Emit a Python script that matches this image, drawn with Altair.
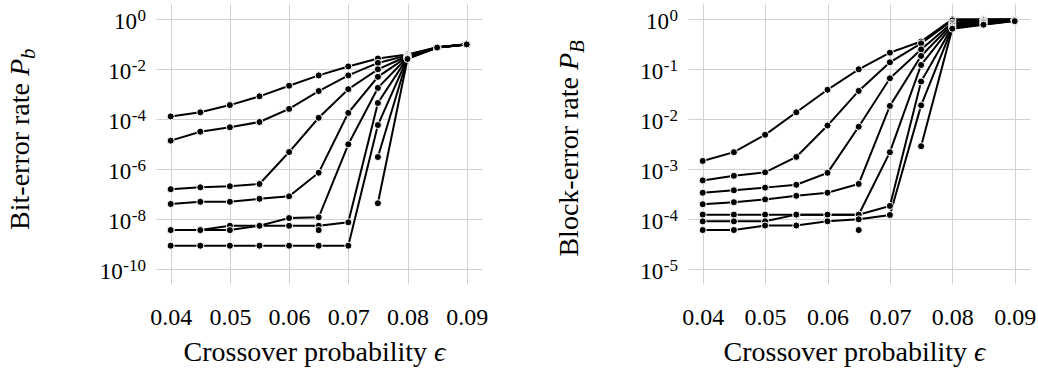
import altair as alt
import pandas as pd

# ---------------- data ----------------
eps = [0.04, 0.045, 0.05, 0.055, 0.06, 0.065, 0.07, 0.075, 0.08, 0.085, 0.09]
x_ticks = [0.04, 0.05, 0.06, 0.07, 0.08, 0.09]

# bit-error rate (left panel)
ber_1 = [1.3e-4, 1.9e-4, 3.7e-4, 8.3e-4, 2.2e-3, 5.7e-3, 1.3e-2, 2.7e-2, 3.9e-2, 7.6e-2, 1.0e-1]
ber_2 = [1.4e-5, 3.2e-5, 4.8e-5, 7.8e-5, 2.6e-4, 1.35e-3, 5.7e-3, 1.8e-2, 3.6e-2, 7.6e-2, 1.0e-1]
ber_3 = [1.6e-7, 1.9e-7, 2.1e-7, 2.6e-7, 4.9e-6, 1.15e-4, 1.6e-3, 1.0e-2, 3.4e-2, 7.5e-2, 1.0e-1]
ber_4 = [4.1e-8, 5.0e-8, 5.0e-8, 6.6e-8, 8.3e-8, 7.3e-7, 1.8e-4, 5.0e-3, 3.2e-2, 7.5e-2, 1.0e-1]
ber_5 = [3.7e-9, 3.7e-9, 5.5e-9, 5.5e-9, 1.12e-8, 1.2e-8, 1.0e-5, 1.8e-3, 3.0e-2, 7.5e-2, 9.9e-2]
ber_6 = [3.7e-9, 3.7e-9, 3.7e-9, 5.5e-9, 5.5e-9, 5.5e-9, 7.6e-9, 4.5e-4, 2.9e-2, 7.4e-2, 9.9e-2]
ber_7 = [8.8e-10, 8.8e-10, 8.8e-10, 8.8e-10, 8.8e-10, 8.8e-10, 8.8e-10, 5.9e-5, 2.8e-2, 7.4e-2, 9.9e-2]
ber_8 = [None, None, None, None, None, 3.7e-9, None, None, None, None, None]
ber_9 = [None, None, None, None, None, None, None, 3.1e-6, 2.7e-2, 7.4e-2, 9.9e-2]
ber_10 = [None, None, None, None, None, None, None, 4.4e-8, 2.6e-2, 7.4e-2, 9.9e-2]

# block-error rate (right panel)
bler_1 = [1.47e-3, 2.2e-3, 4.9e-3, 1.38e-2, 3.9e-2, 0.10, 0.215, 0.36, 1.0, 1.0, 1.0]
bler_2 = [6.0e-4, 7.4e-4, 8.7e-4, 1.77e-3, 7.5e-3, 3.7e-2, 0.138, 0.33, 0.95, 0.98, 1.0]
bler_3 = [3.4e-4, 3.8e-4, 4.3e-4, 4.9e-4, 8.5e-4, 7.1e-3, 0.066, 0.25, 0.85, 0.95, 0.98]
bler_4 = [2.0e-4, 2.2e-4, 2.5e-4, 2.95e-4, 3.4e-4, 5.1e-4, 1.85e-2, 0.185, 0.80, 0.90, 0.97]
bler_5 = [1.24e-4, 1.24e-4, 1.24e-4, 1.24e-4, 1.24e-4, 1.24e-4, 2.2e-3, 0.122, 0.75, 0.88, 0.96]
bler_6 = [9.1e-5, 9.1e-5, 9.1e-5, 1.24e-4, 1.24e-4, 1.24e-4, 1.85e-4, 0.057, 0.70, 0.85, 0.95]
bler_7 = [6.1e-5, 6.1e-5, 7.5e-5, 7.5e-5, 9.1e-5, 1.0e-4, 1.22e-4, 1.9e-2, 0.68, 0.80, 0.93]
bler_8 = [None, None, None, None, None, 6.1e-5, None, None, None, None, None]
bler_9 = [None, None, None, None, None, None, None, 2.9e-3, 0.65, 0.78, 0.92]

# y tick values, printed as 10 with a superscript exponent
ber_ticks = [1e-10, 1e-8, 1e-6, 1e-4, 1e-2, 1]
ber_exp_labels = ["-10", "-8", "-6", "-4", "-2", "0"]
bler_ticks = [1e-5, 1e-4, 1e-3, 1e-2, 1e-1, 1]
bler_exp_labels = ["-5", "-4", "-3", "-2", "-1", "0"]

x_title_text = "Crossover probability"
x_title_symbol = "ϵ"

FONT = "Liberation Serif"
XTICK_FS = 24
YTICK_FS = 23
EXP_FS = 17
TITLE_FS = 28
LABEL_PAD = 10
HEIGHT = 280


def text_width(s, fs):
    # approximate Times-metric advance widths
    w = 0.0
    for ch in s:
        w += 0.333 if ch == "-" else 0.5
    return w * fs


def long_df(series):
    rows = []
    for i, s in enumerate(series):
        for x, v in zip(eps, s):
            if v is not None:
                rows.append({"eps": x, "val": v, "series": f"s{i+1}"})
    return pd.DataFrame(rows)


def panel(series, xdom, ydom, yticks, yexps, width, title_parts, title_x, title_y):
    df = long_df(series)
    yscale = alt.Scale(type="log", domain=ydom, nice=False)
    x = alt.X("eps:Q",
              scale=alt.Scale(domain=xdom, nice=False, zero=False),
              axis=alt.Axis(values=x_ticks, format=".2f", title=None,
                            labelPadding=21, labelFontSize=XTICK_FS))
    y = alt.Y("val:Q", scale=yscale,
              axis=alt.Axis(values=yticks, labels=False, title=None, grid=True))
    base = alt.Chart(df).encode(x=x, y=y, detail="series:N")
    lines = base.mark_line(color="black", strokeWidth=2)
    pts = base.mark_circle(size=50, color="black", opacity=1, stroke="white", strokeWidth=1)

    layers = [lines, pts]

    # y tick labels: "10" plus a raised exponent
    exp_df = pd.DataFrame({"val": yticks, "e": yexps})
    layers.append(
        alt.Chart(exp_df).mark_text(align="right", baseline="middle", font=FONT,
                                    fontSize=EXP_FS, color="black", dy=-3).encode(
            x=alt.value(-LABEL_PAD), y=y, text="e:N"))
    for t, e in zip(yticks, yexps):
        layers.append(
            alt.Chart(pd.DataFrame({"val": [t], "b": ["10"]})).mark_text(
                align="right", baseline="middle", font=FONT, fontSize=YTICK_FS,
                color="black", dy=3).encode(
                x=alt.value(-LABEL_PAD - text_width(e, EXP_FS) - 0.5),
                y=y, text="b:N"))

    # x axis title with italic symbol
    join = width / 2 + 108
    layers.append(alt.Chart(pd.DataFrame({"t": [x_title_text]})).mark_text(
        align="right", baseline="alphabetic", font=FONT, fontSize=TITLE_FS,
        color="black").encode(x=alt.value(join), y=alt.value(HEIGHT + 77), text="t:N"))
    layers.append(alt.Chart(pd.DataFrame({"t": [x_title_symbol]})).mark_text(
        align="left", baseline="alphabetic", font=FONT, fontSize=TITLE_FS,
        fontStyle="italic", color="black").encode(
        x=alt.value(join + 7), y=alt.value(HEIGHT + 77), text="t:N"))

    # y axis title with italic symbol and subscript
    main, ital, sub = title_parts
    layers.append(alt.Chart(pd.DataFrame({"t": [main]})).mark_text(
        angle=270, align="right", baseline="alphabetic", font=FONT, fontSize=TITLE_FS,
        color="black").encode(x=alt.value(title_x), y=alt.value(title_y), text="t:N"))
    layers.append(alt.Chart(pd.DataFrame({"t": [ital]})).mark_text(
        angle=270, align="left", baseline="alphabetic", font=FONT, fontSize=TITLE_FS,
        fontStyle="italic", color="black").encode(
        x=alt.value(title_x), y=alt.value(title_y - 7), text="t:N"))
    layers.append(alt.Chart(pd.DataFrame({"t": [sub]})).mark_text(
        angle=270, align="left", baseline="alphabetic", font=FONT, fontSize=21,
        fontStyle="italic", color="black", dy=6).encode(
        x=alt.value(title_x), y=alt.value(title_y - 7 - 17), text="t:N"))
    return alt.layer(*layers).properties(width=width, height=HEIGHT)


left = panel(
    [ber_1, ber_2, ber_3, ber_4, ber_5, ber_6, ber_7, ber_8, ber_9, ber_10],
    [0.037517, 0.092584], [10 ** -10.588, 10 ** 0.612],
    ber_ticks, ber_exp_labels, 326,
    ("Bit-error rate", "P", "b"), -127, 79)

right = panel(
    [bler_1, bler_2, bler_3, bler_4, bler_5, bler_6, bler_7, bler_8, bler_9],
    [0.037644, 0.092452], [10 ** -5.294, 10 ** 0.306],
    bler_ticks, bler_exp_labels, 342,
    ("Block-error rate", "P", "B"), -110, 73)

chart = alt.hconcat(left, right, spacing=68).properties(
    padding={"left": 7, "top": 4, "right": 2, "bottom": 0}
).configure(font=FONT).configure_view(stroke=None).configure_axis(
    labelFont=FONT, titleFont=FONT, labelFontSize=XTICK_FS, titleFontSize=TITLE_FS,
    labelColor="black", titleColor="black", titleFontWeight="normal",
    domain=False, ticks=False, tickSize=0, grid=True, gridColor="#d0d0d0", gridWidth=1,
)

chart.save("out.html", embed_options={"renderer": "svg", "actions": False})
